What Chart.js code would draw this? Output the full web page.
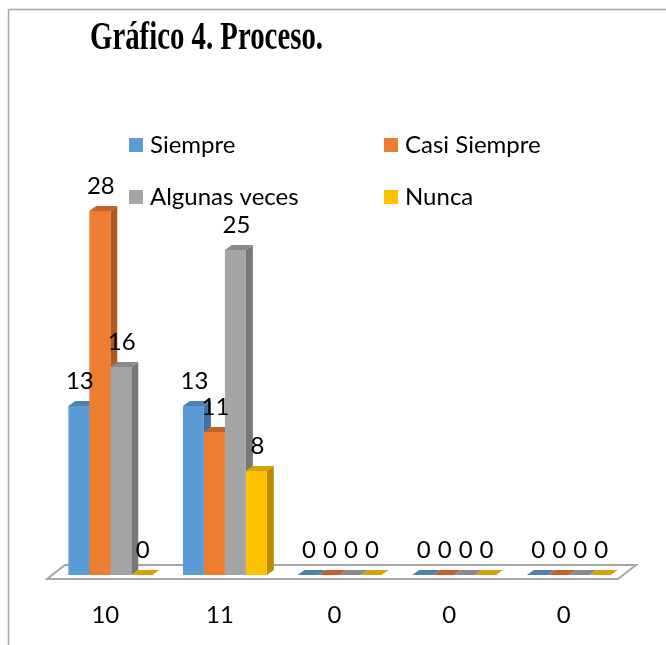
<!DOCTYPE html>
<html>
<head>
<meta charset="utf-8">
<script src="https://cdn.jsdelivr.net/npm/chart.js@4.4.1/dist/chart.umd.min.js"></script>
<style>
  html, body { margin: 0; padding: 0; background: #fff; }
  canvas { display: block; }
</style>
</head>
<body>
<canvas id="procesoChart" width="666" height="645"></canvas>
<script>
// datos del grafico
const categories = ['10', '11', '0', '0', '0'];
const siempre = [13, 13, 0, 0, 0];
const casiSiempre = [28, 11, 0, 0, 0];
const algunasVeces = [16, 25, 0, 0, 0];
const nunca = [0, 8, 0, 0, 0];
const seriesNames = ['Siempre', 'Casi Siempre', 'Algunas veces', 'Nunca'];
const titleText = 'Gráfico 4. Proceso.';

const frontColors = ['#5B9BD5', '#ED7D31', '#A5A5A5', '#FFC000'];
const sideColors = ['#41719C', '#AE5A21', '#787878', '#BC8C00'];
const topColors = ['#4E7FB5', '#C0642C', '#8A8A8A', '#D4A20A'];
const labelFont = '24px Lato';

// caja, piso y caras 3D
const bars3d = {
    id: 'bars3d',
    beforeDraw(chart) {
        let ctx = chart.ctx;
        ctx.save();
        ctx.strokeStyle = '#A6A6A6';
        ctx.lineWidth = 1.5;
        ctx.strokeRect(8.5, 9.5, 720, 720);
        ctx.restore();
    },
    beforeDatasetsDraw(chart) {
        let ctx = chart.ctx;
        let a = chart.chartArea;
        const dx = 7, dy = 5;
        ctx.save();
        // piso
        ctx.beginPath();
        ctx.moveTo(a.left - 6, a.bottom + 4);
        ctx.lineTo(a.right - 8, a.bottom + 4);
        ctx.lineTo(a.right + 10, a.bottom - 10);
        ctx.lineTo(a.left + 12, a.bottom - 10);
        ctx.closePath();
        ctx.fillStyle = '#fff';
        ctx.fill();
        ctx.strokeStyle = '#A6A6A6';
        ctx.lineWidth = 2;
        ctx.stroke();

        for (let j = 0; j < categories.length; j++) {
            chart.data.datasets.forEach((ds, i) => {
                let bar = chart.getDatasetMeta(i).data[j];
                let p = bar.getProps(['x', 'y', 'base', 'width'], true);
                let l = p.x - p.width / 2, r = p.x + p.width / 2;
                ctx.fillStyle = sideColors[i];
                ctx.beginPath();
                ctx.moveTo(r, p.y);
                ctx.lineTo(r + dx, p.y - dy);
                ctx.lineTo(r + dx, p.base - dy);
                ctx.lineTo(r, p.base);
                ctx.closePath();
                ctx.fill();
                ctx.fillStyle = topColors[i];
                ctx.beginPath();
                ctx.moveTo(l, p.y);
                ctx.lineTo(l + dx, p.y - dy);
                ctx.lineTo(r + dx, p.y - dy);
                ctx.lineTo(r, p.y);
                ctx.closePath();
                ctx.fill();
            });
        }
        ctx.restore();
    },
    afterDatasetsDraw(chart) {
        let ctx = chart.ctx;
        ctx.save();
        ctx.font = labelFont;
        ctx.fillStyle = '#000';
        ctx.textAlign = 'center';
        ctx.textBaseline = 'middle';
        chart.data.datasets.forEach((ds, i) => {
            chart.getDatasetMeta(i).data.forEach((bar, j) => {
                ctx.fillText(String(ds.data[j]), bar.x + 1, bar.y - 25);
            });
        });
        ctx.restore();
    },
    afterDraw(chart) {
        let ctx = chart.ctx;
        ctx.save();
        // titulo
        ctx.font = 'bold 40px "Liberation Serif"';
        ctx.fillStyle = '#000';
        ctx.textBaseline = 'alphabetic';
        ctx.translate(90, 49);
        ctx.scale(0.72, 1);
        ctx.fillText(titleText, 0, 0);
        ctx.restore();

        // leyenda en dos columnas
        ctx.save();
        ctx.font = labelFont;
        ctx.textBaseline = 'middle';
        const cols = [129, 384], rows = [145, 197];
        chart.data.datasets.forEach((ds, i) => {
            let x = cols[i % 2], y = rows[Math.floor(i / 2)];
            ctx.fillStyle = frontColors[i];
            ctx.fillRect(x, y - 7, 14, 14);
            ctx.fillStyle = '#000';
            ctx.fillText(ds.label, x + 21, y);
        });
        ctx.restore();
    }
};

let ctx = document.getElementById('procesoChart').getContext('2d');
let procesoChart = new Chart(ctx, {
    type: 'bar',
    data: {
        labels: categories,
        datasets: [
            { label: seriesNames[0], data: siempre, backgroundColor: frontColors[0] },
            { label: seriesNames[1], data: casiSiempre, backgroundColor: frontColors[1] },
            { label: seriesNames[2], data: algunasVeces, backgroundColor: frontColors[2] },
            { label: seriesNames[3], data: nunca, backgroundColor: frontColors[3] }
        ]
    },
    options: {
        responsive: false,
        animation: false,
        layout: { padding: { top: 185, left: 53, right: 40, bottom: 0 } },
        datasets: { bar: { categoryPercentage: 0.732, barPercentage: 1, borderWidth: 0 } },
        plugins: {
            legend: { display: false },
            title: { display: false },
            tooltip: { enabled: false }
        },
        scales: {
            x: {
                grid: { display: false, drawTicks: false },
                border: { display: false },
                ticks: { color: '#000', font: { family: 'Lato', size: 24 }, padding: 26, labelOffset: -5 },
                afterFit: (scale) => { scale.height = 70; }
            },
            y: { display: false, min: 0, max: 30 }
        }
    },
    plugins: [bars3d]
});
</script>
</body>
</html>
